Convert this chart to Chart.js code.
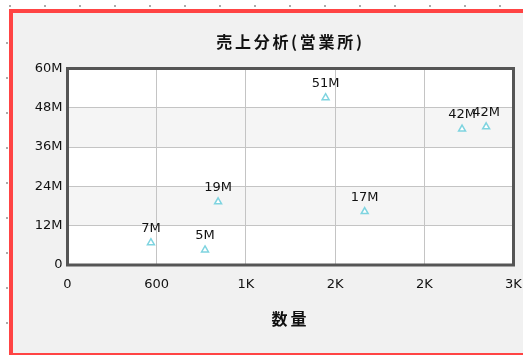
<!DOCTYPE html>
<html><head><meta charset="utf-8">
<script src="https://cdn.jsdelivr.net/npm/chart.js@4/dist/chart.umd.min.js"></script>
<style>
html,body{margin:0;padding:0;background:#fff;overflow:hidden;}
#wrap{position:relative;width:523px;height:356px;overflow:hidden;}
.bg{position:absolute;left:13px;top:13px;width:510px;height:340px;background:#f1f1f1;}
.red{position:absolute;background:#ff4444;}
#rl{left:9px;top:9px;width:4px;height:346px;}
#rt{left:9px;top:9px;width:514px;height:4px;}
#rb{left:9px;top:353px;width:514px;height:2px;}
#topmarks{position:absolute;left:9px;top:5px;width:514px;height:2px;background:repeating-linear-gradient(to right,#aaa 0 2px,transparent 2px 35px);}
#leftmarks{position:absolute;left:6px;top:42px;width:2px;height:314px;background:repeating-linear-gradient(to bottom,#aaa 0 2px,transparent 2px 35px);}
#c{position:absolute;left:0;top:0;}
</style></head>
<body>
<div id="wrap"><div id="topmarks"></div><div id="leftmarks"></div><div class="bg"></div><div class="red" id="rl"></div><div class="red" id="rt"></div><div class="red" id="rb"></div><canvas id="c" width="523" height="356"></canvas></div>
<script>
const title = '売上分析(営業所)';
const xTitle = '数量';
const quantity = [561, 925, 1013, 1736, 1999, 2654, 2816];
const salesM = [6.8, 4.6, 19.3, 51.1, 16.3, 41.5, 42.2];
const pointLabels = ['7M', '5M', '19M', '51M', '17M', '42M', '42M'];
const xTickLabels = ['0', '600', '1K', '2K', '2K', '3K'];
const yTickLabels = ['0', '12M', '24M', '36M', '48M', '60M'];

const tickFont = {family: '"DejaVu Sans", sans-serif', size: 13};

const plotDeco = {
  id: 'plotDeco',
  beforeDraw(chart) {
    const {ctx, chartArea: a, scales: {y}} = chart;
    ctx.save();
    ctx.fillStyle = '#ffffff';
    ctx.fillRect(a.left, a.top, a.right - a.left, a.bottom - a.top);
    ctx.fillStyle = '#f5f5f5';
    [[12, 24], [36, 48]].forEach(([lo, hi]) => {
      const t = y.getPixelForValue(hi), b = y.getPixelForValue(lo);
      ctx.fillRect(a.left, t, a.right - a.left, b - t);
    });
    ctx.restore();
  },
  afterDatasetsDraw(chart) {
    const {ctx, chartArea: a} = chart;
    ctx.save();
    ctx.strokeStyle = '#555555';
    ctx.lineWidth = 3;
    ctx.strokeRect(a.left, a.top, a.right - a.left, a.bottom - a.top);
    const meta = chart.getDatasetMeta(0);
    ctx.fillStyle = '#111';
    ctx.font = '13px "DejaVu Sans", sans-serif';
    ctx.textAlign = 'center';
    ctx.textBaseline = 'middle';
    meta.data.forEach((pt, i) => {
      ctx.fillText(pointLabels[i], pt.x, pt.y - 14);
    });
    ctx.restore();
  }
};

const chart = new Chart(document.getElementById('c'), {
  type: 'scatter',
  data: {
    datasets: [{
      data: quantity.map((q, i) => ({x: q, y: salesM[i]})),
      pointStyle: 'triangle',
      pointRadius: 4,
      pointBorderWidth: 1.5,
      pointBorderColor: '#7fd4e0',
      pointBackgroundColor: '#ffffff'
    }]
  },
  options: {
    responsive: false,
    animation: false,
    layout: {padding: {left: 0, right: 1, top: 0, bottom: 0}},
    plugins: {
      legend: {display: false},
      tooltip: {enabled: false},
      title: {
        display: true, text: title, fullSize: false, color: '#111',
        font: {family: '"Noto Sans CJK JP", sans-serif', size: 16, weight: 'bold'},
        padding: {top: 32.4, bottom: 16.9}
      }
    },
    scales: {
      x: {
        type: 'linear', min: 0, max: 3000,
        afterFit: s => { s.height = 91; s.paddingLeft = 0; s.paddingRight = 9.5; },
        ticks: {stepSize: 600, padding: 12, color: '#111', font: tickFont,
          callback: (v, i) => xTickLabels[i]},
        grid: {color: '#c4c4c4', drawTicks: false},
        border: {display: false},
        title: {display: true, text: xTitle, color: '#111',
          font: {family: '"Noto Sans CJK JP", sans-serif', size: 16, weight: 'bold'},
          padding: {top: 27.4, bottom: 27.4}}
      },
      y: {
        type: 'linear', min: 0, max: 60,
        afterFit: s => { s.width = 67.5; },
        ticks: {stepSize: 12, padding: 5, color: '#111', font: tickFont,
          callback: (v, i) => yTickLabels[i]},
        grid: {color: '#c4c4c4', drawTicks: false},
        border: {display: false}
      }
    }
  },
  plugins: [plotDeco]
});

function spaced(obj, method, spacing) {
  const orig = obj[method].bind(obj);
  obj[method] = function (...args) {
    const ctx = chart.ctx;
    ctx.save();
    ctx.letterSpacing = spacing;
    orig(...args);
    ctx.restore();
  };
}
if (chart.titleBlock) spaced(chart.titleBlock, 'draw', '2.7px');
spaced(chart.scales.x, 'drawTitle', '3px');
chart.draw();
</script>
</body></html>
